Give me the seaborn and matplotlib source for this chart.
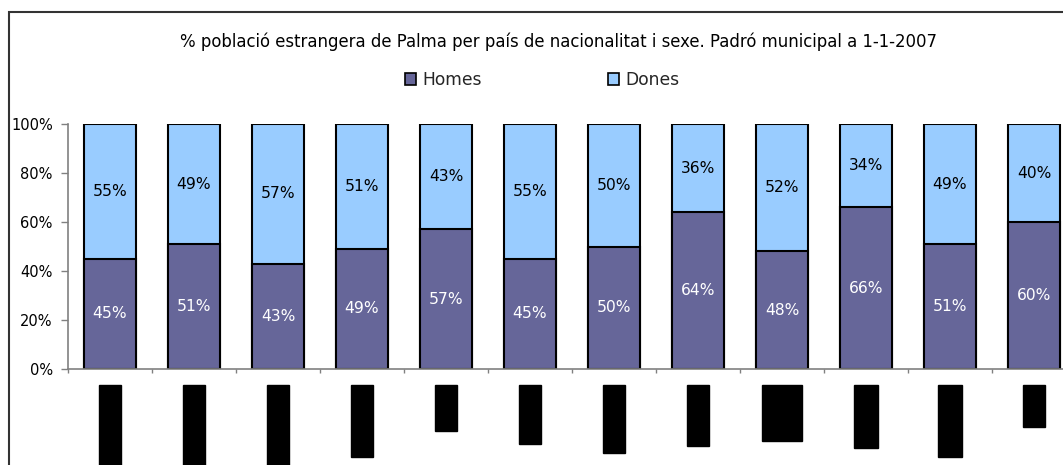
import matplotlib
matplotlib.use("Agg")
import matplotlib.pyplot as plt
from matplotlib.patches import Rectangle, Patch
import numpy as np
import pandas as pd
import seaborn as sns

# Category labels are blacked out in the reference; names below are placeholders hidden under black boxes
paisos = ["Alemanya", "Argentina", "Colòmbia", "Equador", "Itàlia", "Bolívia",
          "Uruguai", "Marroc", "Regne\nUnit", "Nigèria", "Bulgària", "Xina"]
homes = [45, 51, 43, 49, 57, 45, 50, 64, 48, 66, 51, 60]
dones = [55, 49, 57, 51, 43, 55, 50, 36, 52, 34, 49, 40]
yticks = [0, 20, 40, 60, 80, 100]
title = "% població estrangera de Palma per país de nacionalitat i sexe. Padró municipal a 1-1-2007"
series_names = ["Homes", "Dones"]

c_homes = "#666699"
c_dones = "#99CCFF"

sns.set_theme(style="white")
plt.rcParams["font.family"] = ["DejaVu Sans"]

df = pd.DataFrame({"pais": paisos, "homes": homes, "dones": dones})
df["total"] = df["homes"] + df["dones"]

W, H = 1063, 465
fig = plt.figure(figsize=(W / 100, H / 100), dpi=100)
fig.patch.set_facecolor("white")
ax = fig.add_axes([68 / W, 1 - 369 / H, 1008 / W, 245 / H])

sns.barplot(data=df, x="pais", y="total", order=paisos, color=c_dones, width=0.61,
            edgecolor="black", linewidth=1.5, errorbar=None, ax=ax, saturation=1)
sns.barplot(data=df, x="pais", y="homes", order=paisos, color=c_homes, width=0.61,
            edgecolor="black", linewidth=1.5, errorbar=None, ax=ax, saturation=1)

for i, (h, d) in enumerate(zip(homes, dones)):
    ax.text(i, h / 2, f"{h}%", ha="center", va="center", color="white", fontsize=11.2)
    ax.text(i, h + d / 2, f"{d}%", ha="center", va="center", color="black", fontsize=11.2)

ax.set_xlim(-0.5, len(paisos) - 0.5)
ax.set_ylim(0, 100)
ax.set_yticks(yticks)
ax.set_yticklabels([f"{v}%" for v in yticks], fontsize=10.5, color="black")
ax.set_xlabel("")
ax.set_ylabel("")

ax.set_xticks(range(len(paisos)))
ax.set_xticklabels(paisos, rotation=90, fontsize=11, color="black", va="top", ha="center",
                   multialignment="center")
for t in ax.get_xticklabels():
    t.set_bbox(dict(facecolor="black", edgecolor="black", boxstyle="square,pad=0.26"))
ax.set_xticks(np.arange(-0.5, len(paisos), 1), minor=True)
ax.tick_params(axis="x", which="major", length=0, pad=14.5)
ax.tick_params(axis="x", which="minor", length=3, width=1, color="#808080", direction="out", bottom=True)
ax.tick_params(axis="y", which="major", length=5, width=1, color="#808080", direction="out", pad=6, left=True)

for s in ["top", "right"]:
    ax.spines[s].set_visible(False)
for s in ["left", "bottom"]:
    ax.spines[s].set_color("#808080")
    ax.spines[s].set_linewidth(1.2)
ax.grid(False)

fig.text(559 / W, 1 - 42 / H, title, ha="center", va="center", fontsize=11.9, color="black")

handles = [Patch(facecolor=c_homes, edgecolor="black", linewidth=1.2),
           Patch(facecolor=c_dones, edgecolor="black", linewidth=1.2)]
fig.legend(handles, series_names, loc="center", bbox_to_anchor=(542 / W, 1 - 80 / H),
           ncol=2, frameon=False, fontsize=12.3, handlelength=0.65, handleheight=0.65,
           handletextpad=0.35, columnspacing=7.4)

fig.add_artist(Rectangle((8.5 / W, -0.1), 1.2, 1 - 12 / H + 0.1, transform=fig.transFigure,
                         facecolor="none", edgecolor="#333333", linewidth=1.5))

fig.savefig("out.png", dpi=100, facecolor="white")
